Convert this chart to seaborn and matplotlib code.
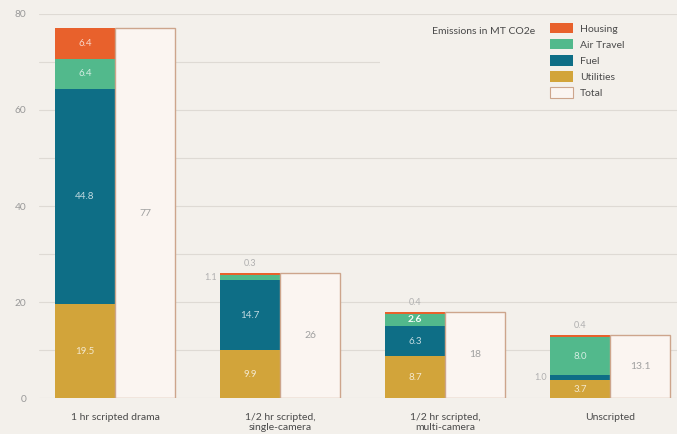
import numpy as np
import pandas as pd
import matplotlib
matplotlib.use("Agg")
import matplotlib.pyplot as plt
import seaborn as sns
from matplotlib.patches import Patch, Rectangle

# ---------------- data ----------------
categories = ["1 hr scripted drama", "1/2 hr scripted,\nsingle-camera",
              "1/2 hr scripted,\nmulti-camera", "Unscripted"]
utilities = [19.5, 9.9, 8.7, 3.7]
fuel = [44.8, 14.7, 6.3, 1.0]
air_travel = [6.4, 1.1, 2.6, 8.0]
housing = [6.4, 0.3, 0.4, 0.4]
totals = [77, 26, 18, 13.1]
total_labels = ["77", "26", "18", "13.1"]
series_names = ["Housing", "Air Travel", "Fuel", "Utilities", "Total"]
yticks = [0, 20, 40, 60, 80]

# ---------------- style ----------------
BG = "#F3F0EB"
C_HOUSING = "#E8612C"
C_AIR = "#52B98C"
C_FUEL = "#0E6E86"
C_UTIL = "#D2A43A"
C_TOTAL_FACE = "#FBF5F1"
C_TOTAL_EDGE = "#CDA58C"
GRID = "#DEDAD4"

sns.set_theme(style="white")
plt.rcParams['font.family'] = ['Lato', 'DejaVu Sans']

W, H = 677, 434
fig = plt.figure(figsize=(W / 100, H / 100), dpi=100)
fig.patch.set_facecolor(BG)
ax = fig.add_axes([39 / W, 1 - 398 / H, 1 - 39 / W, (398 - 14) / H])
ax.set_facecolor(BG)

pos = np.arange(len(categories))
off = 0.182
bw = 0.364
stack_x = pos - off
total_x = pos + off

c1 = np.array(utilities)
c2 = c1 + np.array(fuel)
c3 = c2 + np.array(air_travel)
c4 = c3 + np.array(housing)

common = dict(native_scale=True, orient="x", width=bw, saturation=1,
              errorbar=None, ax=ax, linewidth=0)
for cum, col in [(c4, C_HOUSING), (c3, C_AIR), (c2, C_FUEL), (c1, C_UTIL)]:
    sns.barplot(x=stack_x, y=cum, color=col, **common)

sns.barplot(x=total_x, y=totals, color=C_TOTAL_FACE, native_scale=True,
            orient="x", width=bw, saturation=1, errorbar=None, ax=ax,
            edgecolor=C_TOTAL_EDGE, linewidth=1.0)

# ---------------- axes ----------------
ax.set_xlim((39 - 115) / 165, (677 - 115) / 165)
ax.set_ylim(0, 80)
ax.set_yticks(yticks)
ax.set_yticks([10, 30, 50, 70], minor=True)
ax.set_yticklabels([str(t) for t in yticks])
ax.grid(which="both", axis="y", color=GRID, linewidth=0.8)
ax.set_axisbelow(True)
ax.set_xticks(pos)
ax.set_xticklabels(categories, fontsize=7.5, color="#4a4a4a", linespacing=1.1)
ax.tick_params(axis="y", which="both", length=0, pad=9, labelsize=7.3,
               labelcolor="#999999")
ax.tick_params(axis="x", length=0, pad=11)
for s in ax.spines.values():
    s.set_visible(False)
ax.set_xlabel("")
ax.set_ylabel("")

# ---------------- value labels ----------------
layers = [(np.zeros(4), c1, utilities), (c1, c2, fuel), (c2, c3, air_travel),
          (c3, c4, housing)]
for li, (lo, hi, vals) in enumerate(layers):
    for i in range(4):
        v = vals[i]
        if v >= 1.5:
            ax.text(stack_x[i], (lo[i] + hi[i]) / 2, f"{v:.1f}", ha="center",
                    va="center", fontsize=7 if v >= 3 else 7.5,
                    color="white", alpha=0.75 if v >= 3 else 0.95,
                    fontweight="bold" if v < 3 else "normal", zorder=5)
        elif li == 3:
            ax.text(stack_x[i], hi[i] + 1.0, f"{v:.1f}", ha="center",
                    va="bottom", fontsize=6.5, color="#b0b0b0", zorder=5)
        else:
            ax.text(stack_x[i] - bw / 2 - 0.02, (lo[i] + hi[i]) / 2,
                    f"{v:.1f}", ha="right", va="center", fontsize=6.5,
                    color="#b0b0b0", zorder=5)

for i in range(4):
    ax.text(total_x[i], totals[i] / 2, total_labels[i], ha="center",
            va="center", fontsize=7.5, color="#a0a0a0", zorder=5)

# ---------------- legend ----------------
ax.add_patch(Rectangle((380 / W, 1 - 104 / H), 1 - 380 / W, (104 - 19) / H,
                       transform=fig.transFigure, facecolor=BG,
                       edgecolor="none", zorder=0.7, clip_on=False))
handles = [Patch(facecolor=C_HOUSING, edgecolor="none"),
           Patch(facecolor=C_AIR, edgecolor="none"),
           Patch(facecolor=C_FUEL, edgecolor="none"),
           Patch(facecolor=C_UTIL, edgecolor="none"),
           Patch(facecolor=C_TOTAL_FACE, edgecolor=C_TOTAL_EDGE, linewidth=0.8)]
leg = ax.legend(handles, series_names, loc="upper left",
                bbox_to_anchor=(550 / W, 1 - 23 / H),
                bbox_transform=fig.transFigure, frameon=False, fontsize=7.5,
                handlelength=2.2, handleheight=1.15, labelspacing=0.52,
                handletextpad=0.65, borderpad=0, borderaxespad=0)
for t in leg.get_texts():
    t.set_color("#4a4a4a")
fig.text(535 / W, 1 - 31 / H, "Emissions in MT CO2e", ha="right",
         va="center", fontsize=7.5, color="#4a4a4a")

fig.savefig("out.png", dpi=100, facecolor=BG)
